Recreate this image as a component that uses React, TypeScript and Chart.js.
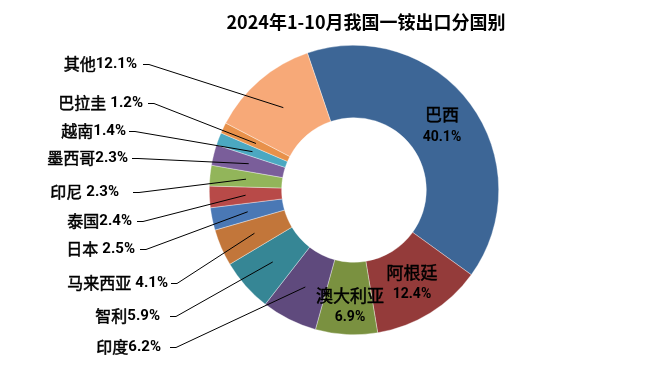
import React, { useEffect, useRef } from "react";
import { Chart, registerables } from "chart.js";

Chart.register(...registerables);

const TITLE = "2024年1-10月我国一铵出口分国别";
const categories = ["巴西", "阿根廷", "澳大利亚", "印度", "智利", "马来西亚", "日本", "泰国", "印尼", "墨西哥", "越南", "巴拉圭", "其他"];
const shares = [40.1, 12.4, 6.9, 6.2, 5.9, 4.1, 2.5, 2.4, 2.3, 2.3, 1.4, 1.2, 12.1];
const percentLabels = ["40.1%", "12.4%", "6.9%", "6.2%", "5.9%", "4.1%", "2.5%", "2.4%", "2.3%", "2.3%", "1.4%", "1.2%", "12.1%"];
const nameSpacer = ["", "", "", "", "", " ", " ", "", " ", "", "", " ", ""];

const colors = ["#3D6696", "#943B3A", "#7A9140", "#5F4A7D", "#368695", "#C2763A", "#4A78B5", "#B84A48", "#92B55A", "#7A5E9A", "#4BA8C1", "#E8914A", "#F7A978"];

// layout for inside labels: index -> [cx, cy name, cy pct]
const insideLayout: Record<number, [number, number, number]> = {
  0: [442, 115, 137],
  1: [412, 273, 294],
  2: [350, 296, 317],
};
// outside label layout: index -> [textRight, lineStartX, y]
const outsideLayout: Record<number, [number, number, number]> = {
  12: [137, 143, 64],
  11: [143, 148, 103],
  10: [126, 129, 131],
  9: [128, 132, 158],
  8: [119, 133, 192],
  7: [132, 137, 221],
  6: [135, 140, 249],
  5: [168, 171, 283],
  4: [160, 170, 316],
  3: [161, 170, 347],
};

const CJK = '"Noto Sans CJK SC", sans-serif';
const LAT = 'Roboto, "Liberation Sans", sans-serif';

function heavyText(ctx: CanvasRenderingContext2D, text: string, x: number, y: number) {
  ctx.fillText(text, x, y);
  ctx.lineWidth = 0.5;
  ctx.strokeStyle = "#000";
  ctx.strokeText(text, x, y);
}

const labelPlugin = {
  id: "customLabels",
  afterDraw(chart: any) {
    const ctx = chart.ctx as CanvasRenderingContext2D;
    const meta = chart.getDatasetMeta(0);
    ctx.save();
    // title
    ctx.fillStyle = "#000";
    ctx.font = `bold 18px ${CJK}`;
    ctx.textAlign = "center";
    ctx.textBaseline = "middle";
    ctx.fillText(TITLE, 366, 22);

    // inside labels
    Object.keys(insideLayout).forEach((k) => {
      const i = Number(k);
      const [cx, y1, y2] = insideLayout[i];
      ctx.textAlign = "center";
      ctx.font = `17px ${CJK}`;
      heavyText(ctx, categories[i], cx, y1);
      ctx.font = `bold 14px ${LAT}`;
      ctx.fillText(percentLabels[i], cx, y2);
    });

    // outside labels + leader lines
    Object.keys(outsideLayout).forEach((k) => {
      const i = Number(k);
      const [right, lx, y] = outsideLayout[i];
      ctx.textAlign = "right";
      ctx.font = `bold 15px ${LAT}`;
      const pw = ctx.measureText(percentLabels[i]).width;
      ctx.fillText(percentLabels[i], right, y);
      ctx.font = `16px ${CJK}`;
      const sp = nameSpacer[i] ? 4 : 0;
      heavyText(ctx, categories[i], right - pw - sp, y);
      const arc = meta.data[i];
      const p = arc.tooltipPosition();
      ctx.strokeStyle = "#000";
      ctx.lineWidth = 1;
      ctx.beginPath();
      ctx.moveTo(lx, y + 0.5);
      ctx.lineTo(lx + 6, y + 0.5);
      ctx.lineTo(p.x, p.y);
      ctx.stroke();
    });
    ctx.restore();
  },
};

export default function App() {
  const ref = useRef<HTMLCanvasElement>(null);
  useEffect(() => {
    document.body.style.margin = "0";
    const chart = new Chart(ref.current!, {
      type: "doughnut",
      data: {
        labels: categories,
        datasets: [
          {
            data: shares,
            backgroundColor: colors,
            borderColor: "rgba(255,255,255,0.6)",
            borderWidth: 0.6,
          },
        ],
      },
      options: {
        responsive: false,
        animation: false,
        rotation: -18.8,
        cutout: "50%",
        layout: { padding: { left: 209, right: 160, top: 45, bottom: 43 } },
        plugins: {
          legend: { display: false },
          tooltip: { enabled: false },
          title: { display: false },
        },
      },
      plugins: [labelPlugin],
    });
    return () => chart.destroy();
  }, []);
  return (
    <div style={{ width: 659, height: 378, background: "#fff" }}>
      <canvas ref={ref} width={659} height={378} style={{ display: "block" }} />
    </div>
  );
}
